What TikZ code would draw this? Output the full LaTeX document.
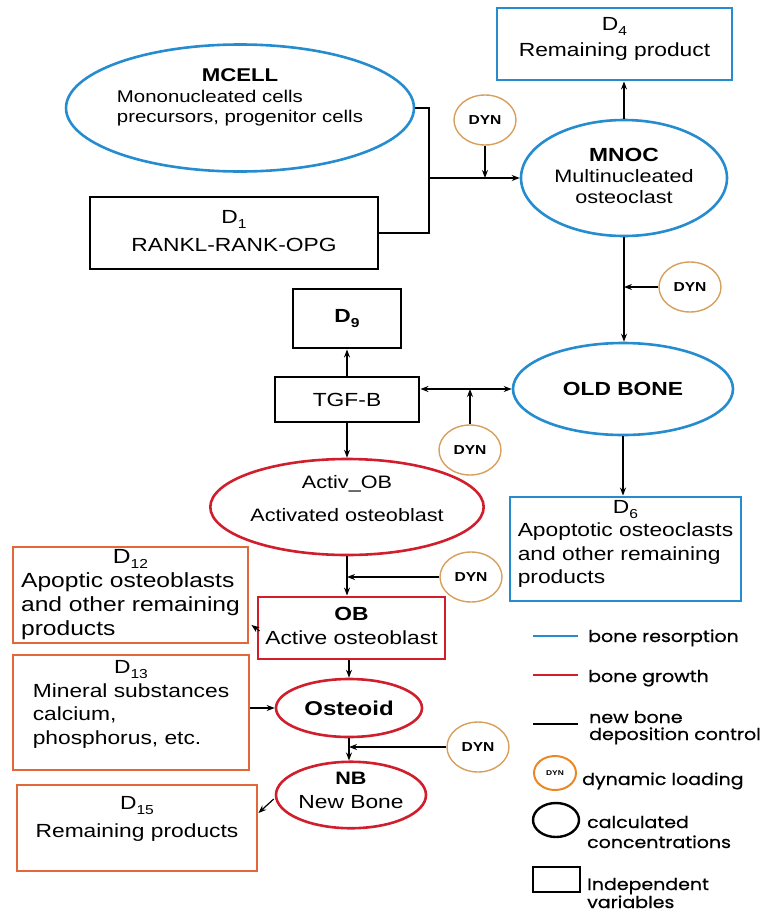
\documentclass[tikz,border=0pt]{standalone}
\usepackage{fontspec}
\setmainfont{Liberation Sans}[FakeStretch=1.2]
\newfontfamily\legfont{Poppins}[FakeStretch=1.15,FakeBold=0.6]
\usetikzlibrary{shapes.geometric,arrows.meta}
\definecolor{resblue}{RGB}{38,140,208}
\definecolor{grred}{RGB}{208,30,45}
\definecolor{boxorange}{RGB}{226,104,58}
\definecolor{dyntan}{RGB}{214,160,92}
\definecolor{dynorange}{RGB}{236,135,40}
\newcommand{\Dsub}[2]{#1\raisebox{-5pt}{\fontsize{13}{13}\selectfont #2}}
\newcommand{\up}[2]{\raisebox{#1}[\height][\depth]{#2}}
\begin{document}
\begin{tikzpicture}[x=1pt,y=-1pt,
  txt/.style={font=\fontsize{19}{23.5}\selectfont},
  ell/.style={ellipse, draw, line width=2.6pt, inner sep=0pt, txt},
  box/.style={rectangle, draw, line width=2.9pt, inner sep=0pt, txt},
  dyn/.style={ellipse, draw=dyntan, line width=1.4pt, minimum width=62pt, minimum height=50pt, inner sep=0pt, font=\fontsize{13}{13}\selectfont\bfseries},
  conn/.style={line width=1.2pt, -{Stealth[length=8pt,width=6pt]}},
  conntwo/.style={line width=1.2pt, {Stealth[length=8pt,width=6pt]}-{Stealth[length=8pt,width=6pt]}},
  plain/.style={line width=1.2pt},
  leg/.style={font=\legfont\fontsize{16.5}{19}\selectfont, inner sep=0pt, anchor=base west},
]
\useasboundingbox (0,0) rectangle (770,913);

% ---------- nodes ----------
\node[ell, draw=resblue, minimum width=306pt, minimum height=127pt, font=\fontsize{17}{20.5}\selectfont] (mcell) at (240,108)
 {\up{10pt}{\begin{tabular}{@{}l@{}}\multicolumn{1}{@{}c@{}}{\fontsize{18.5}{20.5}\selectfont\bfseries MCELL}\\Mononucleated cells\\precursors, progenitor cells\end{tabular}}};

\node[box, draw=black, minimum width=288pt, minimum height=72pt] (d1) at (234,233)
 {\begin{tabular}{@{}c@{}}\Dsub{D}{1}\\[5pt]RANKL-RANK-OPG\end{tabular}};

\node[box, draw=resblue, minimum width=235pt, minimum height=72pt] (d4) at (614.5,44)
 {\up{5pt}{\begin{tabular}{@{}c@{}}\Dsub{D}{4}\\[3pt]Remaining product\end{tabular}}};

\node[ell, draw=resblue, minimum width=206pt, minimum height=116pt, font=\fontsize{18}{21}\selectfont] (mnoc) at (624,178)
 {\begin{tabular}{@{}c@{}}{\fontsize{19}{21}\selectfont\bfseries MNOC}\\Multinucleated\\osteoclast\end{tabular}};

\node[dyn] (dyn1) at (485,120) {DYN};
\node[dyn] (dyn2) at (690,287) {DYN};

\node[ell, draw=resblue, minimum width=220pt, minimum height=92pt] (old) at (623,389) {\bfseries OLD BONE};

\node[box, minimum width=144pt, minimum height=45pt] (tgf) at (347,399.5) {TGF-B};
\node[box, minimum width=108pt, minimum height=59pt] (d9) at (347,318.5) {\bfseries\Dsub{D}{9}};

\node[dyn] (dyn3) at (470,450) {DYN};

\node[ell, draw=grred, minimum width=232pt, minimum height=96pt, font=\fontsize{18}{23}\selectfont] (activ) at (347,507)
 {\up{7pt}{\begin{tabular}{@{}c@{}}Activ\_OB\\[10pt]Activated osteoblast\end{tabular}}};

\node[dyn] (dyn4) at (471,577) {DYN};

\node[box, draw=grred, minimum width=187pt, minimum height=62pt] (ob) at (351.5,628)
 {\begin{tabular}{@{}c@{}}\bfseries OB\\Active osteoblast\end{tabular}};

\node[box, draw=resblue, minimum width=231pt, minimum height=104pt] (d6) at (625.5,549)
 {\up{5pt}{\begin{tabular}{@{}l@{}}\multicolumn{1}{@{}c@{}}{\Dsub{D}{6}}\\Apoptotic osteoclasts\\and other remaining\\products\end{tabular}}};

\node[box, draw=boxorange, minimum width=235pt, minimum height=96pt, font=\fontsize{20.5}{24}\selectfont] (d12) at (130.5,595)
 {\begin{tabular}{@{}l@{}}\multicolumn{1}{@{}c@{}}{\Dsub{D}{12}}\\Apoptic osteoblasts\\and other remaining\\products\end{tabular}};

\node[box, draw=boxorange, minimum width=236pt, minimum height=115pt] (d13) at (131,712.5)
 {\up{8pt}{\begin{tabular}{@{}l@{}}\multicolumn{1}{@{}c@{}}{\Dsub{D}{13}}\\Mineral substances\\calcium,\\phosphorus, etc.\end{tabular}}};

\node[ell, draw=grred, minimum width=146pt, minimum height=58pt, font=\fontsize{20}{24}\selectfont\bfseries] (ost) at (349,708) {Osteoid};

\node[dyn] (dyn5) at (478,747) {DYN};

\node[ell, draw=grred, minimum width=150pt, minimum height=64pt] (nb) at (351,795)
 {\up{3pt}{\begin{tabular}{@{}c@{}}{\fontsize{18}{23}\selectfont\bfseries NB}\\New Bone\end{tabular}}};

\node[box, draw=boxorange, minimum width=240pt, minimum height=86pt] (d15) at (137,828)
 {\up{9pt}{\begin{tabular}{@{}c@{}}\Dsub{D}{15}\\[4pt]Remaining products\end{tabular}}};

% ---------- connectors ----------
\coordinate (j) at (429,178);
\draw[plain] (mcell.east) -| (j);
\draw[plain] (d1.east) -| (j);
\draw[conn] (j) -- (mnoc.west);
\draw[conn] (dyn1.south) -- (dyn1.south |- j);
\draw[conn] (mnoc.north) -- (mnoc.north |- d4.south);
\draw[conn] (mnoc.south) -- (mnoc.south |- old.north);
\draw[conn] (dyn2.west) -- (dyn2.west -| mnoc.south);
\draw[conn] (tgf.north) -- (d9.south);
\draw[conntwo] (tgf.east |- old.west) -- (old.west);
\draw[conn] (dyn3.north) -- (dyn3.north |- old.west);
\draw[conn] (old.south) -- (old.south |- d6.north);
\draw[conn] (tgf.south) -- (activ.north);
\draw[conn] (activ.south) -- (activ.south |- ob.north);
\draw[conn] (dyn4.west) -- (dyn4.west -| activ.south);
\draw[conn] ([xshift=3pt,yshift=-3pt]ob.west) -- ([xshift=2pt,yshift=-30pt]d12.east);
\draw[conn] (ob.south -| ost.north) -- (ost.north);
\draw[conn] (d13.east |- ost.west) -- (ost.west);
\draw[conn] (ost.south) -- (ost.south |- nb.north);
\draw[conn] (dyn5.west) -- (dyn5.west -| ost.south);
\draw[conn] ([xshift=-1pt,yshift=-4pt]nb.west) -- ([yshift=15pt]d15.east);

% ---------- legend ----------
\draw[resblue, line width=2.8pt] (533,636) -- (578,636);
\node[leg] (l1) at (588,642) {bone resorption};
\draw[grred, line width=1.6pt] (533,675) -- (578,675);
\node[leg] (l2) at (588,682) {bone growth};
\draw[black, line width=1.3pt] (533,724) -- (578,724);
\node[leg] (l3a) at (589,723) {new bone};
\node[leg] (l3b) at (589,740) {deposition control};
\node[ellipse, draw=dynorange, line width=2pt, minimum width=42pt, minimum height=34pt, inner sep=0pt, font=\fontsize{7}{7}\selectfont\bfseries] (ldyn) at (555,773) {DYN};
\node[leg] (l4) at (582,785) {dynamic loading};
\node[ellipse, draw, line width=2.4pt, minimum width=46pt, minimum height=34pt, inner sep=0pt] (lell) at (556,820) {};
\node[leg] (l5a) at (587,828) {calculated};
\node[leg] (l5b) at (587,848) {concentrations};
\node[rectangle, draw, line width=2.4pt, minimum width=47pt, minimum height=25pt, inner sep=0pt] (lrect) at (556.5,879.5) {};
\node[leg] (l6a) at (587,890) {Independent};
\node[leg] (l6b) at (587,908) {variables};
\end{tikzpicture}
\end{document}
